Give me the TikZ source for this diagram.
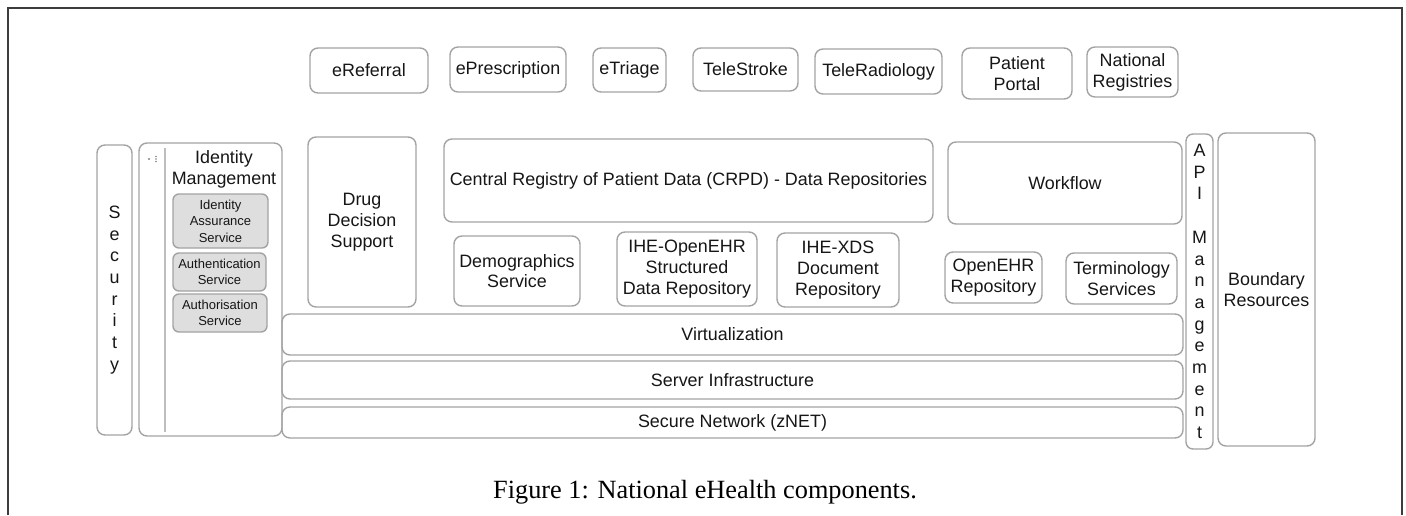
\documentclass[tikz,border=0pt]{standalone}
\usepackage{fontspec}
\setmainfont{Liberation Sans}
\newfontfamily\capfont{Liberation Serif}
\usepackage{xcolor}
\usepackage{tikz}
\usetikzlibrary{positioning, calc}
\definecolor{boxline}{HTML}{A3A3A3}
\definecolor{boxtext}{HTML}{161616}
\definecolor{subfill}{HTML}{DEDEDE}
\definecolor{frameline}{HTML}{3C3C3C}

\begin{document}
\begin{tikzpicture}[x=1pt, y=-1pt,
    comp/.style={draw=boxline, line width=1.4pt, rounded corners=8pt, inner sep=0pt,
      text=boxtext, align=center, font=\fontsize{17.9}{20.8}\selectfont},
    subcomp/.style={comp, fill=subfill, rounded corners=6pt, font=\fontsize{13}{16.5}\selectfont},
    vert/.style={comp, font=\fontsize{17.9}{21.7}\selectfont}]
    \useasboundingbox (0,0) rectangle (1406,515);
    \draw[frameline, line width=1.5pt] (8,515) -- (8,8) -- (1402,8) -- (1402,515);

    \node[comp, minimum width=118pt, minimum height=45pt] at (369,70.5) (eref) {eReferral};
    \node[comp, minimum width=116pt, minimum height=45pt] at (508,69.5) (epresc) {ePrescription};
    \node[comp, minimum width=73pt, minimum height=44pt] at (629.5,70) (etriage) {eTriage};
    \node[comp, minimum width=105pt, minimum height=43pt] at (745.5,69.5) (stroke) {TeleStroke};
    \node[comp, minimum width=127pt, minimum height=45pt] at (878.5,71.5) (radio) {TeleRadiology};
    \node[comp, minimum width=110pt, minimum height=51pt] at (1017,73.5) (portal) {Patient\\Portal};
    \node[comp, minimum width=91pt, minimum height=50pt] at (1132.5,72) (natreg) {National\\Registries};

    \node[vert, minimum width=35pt, minimum height=290pt] at (114.5,290) (secur) {S\\e\\c\\u\\r\\i\\t\\y};
    \node[comp, minimum width=143pt, minimum height=293pt] at (210.5,289.5) (idm) {};
    \node[comp, draw=none, anchor=north] at (224,150) (idmtitle) {Identity\\Management};
    \coordinate (idmtop) at (165,148);
    \coordinate (idmbot) at (165,432);
    \draw[boxline!70, line width=1.2pt] (idmtop) -- (idmbot);
    \fill[boxline!80!black] (149,159) circle (1.1pt);
    \foreach \dy in {-2.5,0,2.5}
      \fill[boxline!80!black] (156,159+\dy) circle (0.9pt);
    \node[subcomp, minimum width=95pt, minimum height=54pt] at (220.5,221) (assur) {Identity\\Assurance\\Service};
    \node[subcomp, minimum width=93pt, minimum height=38pt] at (219.5,272) (authn) {Authentication\\Service};
    \node[subcomp, minimum width=94pt, minimum height=38pt] at (220,313) (authz) {Authorisation\\Service};

    \node[comp, minimum width=108pt, minimum height=170pt] at (362,222) (drug) {Drug\\Decision\\Support};
    \node[comp, minimum width=489pt, minimum height=83pt] at (688.5,180.5) (crpd) {Central Registry of Patient Data (CRPD) - Data Repositories};
    \node[comp, minimum width=126pt, minimum height=70pt] at (517,271) (demog) {Demographics\\Service};
    \node[comp, minimum width=140pt, minimum height=74pt] at (687,269) (iheopen) {IHE-OpenEHR\\Structured\\Data Repository};
    \node[comp, minimum width=122pt, minimum height=74pt] at (838,270) (ihexds) {IHE-XDS\\Document\\Repository};
    \node[comp, minimum width=234pt, minimum height=82pt] at (1065,183) (workflow) {Workflow};
    \node[comp, minimum width=97pt, minimum height=51pt] at (993.5,277.5) (openehr) {OpenEHR\\Repository};
    \node[comp, minimum width=111pt, minimum height=51pt] at (1121.5,278.5) (termino) {Terminology\\Services};

    \node[comp, minimum width=901pt, minimum height=41pt] at (732.5,334.5) (virt) {Virtualization};
    \node[comp, minimum width=901pt, minimum height=38pt] at (732.5,380) (server) {Server Infrastructure};
    \node[comp, minimum width=901pt, minimum height=31pt] at (732.5,422.5) (znet) {Secure Network (zNET)};

    \node[vert, rounded corners=7pt, minimum width=27pt, minimum height=315pt] at (1199.5,291.5) (api) {A\\P\\I\\[21.7pt]M\\a\\n\\a\\g\\e\\m\\e\\n\\t};
    \node[comp, minimum width=97pt, minimum height=313pt] at (1266.5,289.5) (bound) {Boundary\\Resources};

    \node[text=black, font=\capfont\fontsize{26.3}{28}\selectfont] at (705,492) (caption) {Figure 1: National eHealth components.};
  \end{tikzpicture}
\end{document}
